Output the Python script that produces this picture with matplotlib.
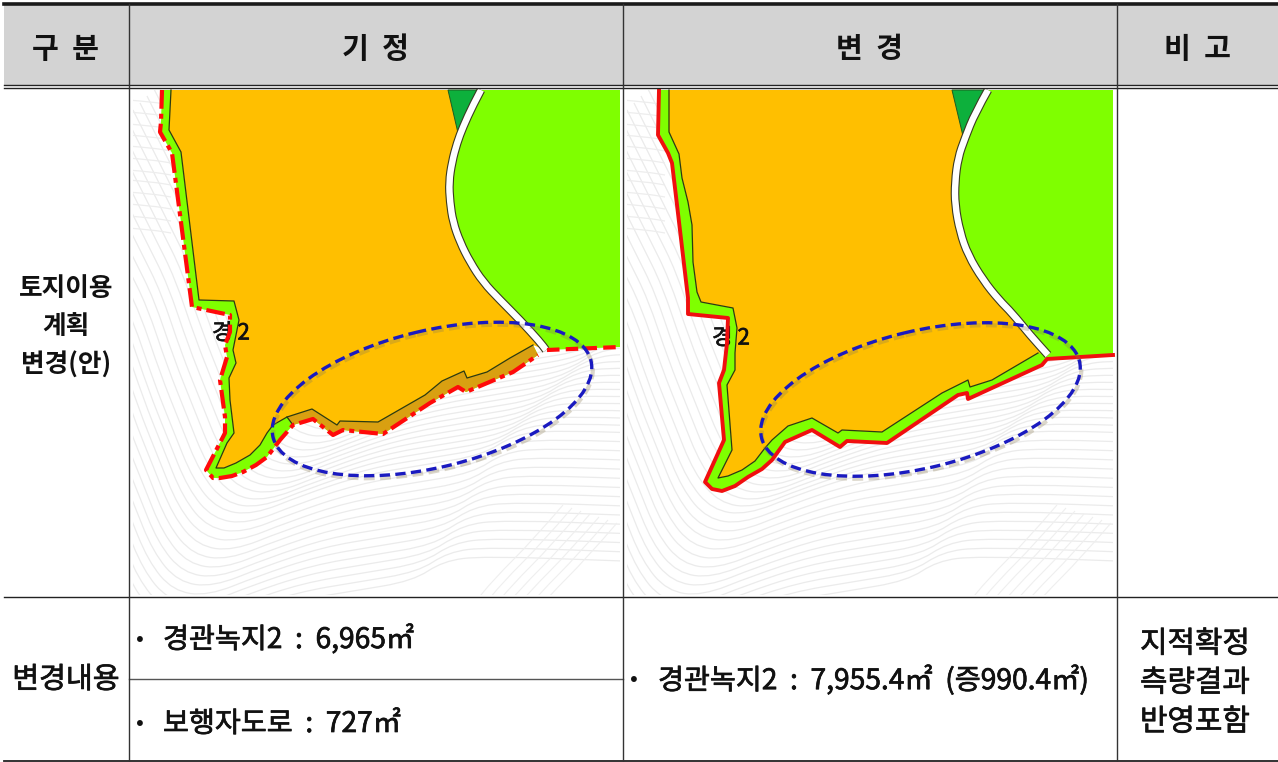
import matplotlib
matplotlib.use('Agg')
import matplotlib.pyplot as plt
import matplotlib.patheffects as pe
from matplotlib.patches import Ellipse, PathPatch, Polygon, Rectangle
from matplotlib.path import Path

plt.rcParams['font.family'] = ['Noto Sans CJK KR', 'DejaVu Sans']

header_labels = ['구  분', '기  정', '변  경', '비  고']
row_label = ['토지이용', '계획', '변경(안)']
change_label = '변경내용'
before_items = ['경관녹지2  :  6,965㎡', '보행자도로  :  727㎡']
after_item = '경관녹지2  :  7,955.4㎡  (증990.4㎡)'
note_lines = ['지적확정', '측량결과', '반영포함']

# map outlines in pixels
left_edge = [(171, 90), (169, 130), (181, 152), (199, 300), (234, 301), (239, 320), (235, 340), (233, 350),
             (236, 363), (229, 378), (230, 400), (234, 433), (227, 443), (216, 468), (224, 468), (236, 463),
             (250, 455), (260, 445), (267, 433), (273, 425), (287, 417), (312, 409), (337, 425), (340, 421),
             (378, 422), (425, 395), (442, 381), (464, 371), (467, 378), (487, 372), (510, 358), (533, 345)]
left_red = [(162, 90), (161, 122), (160, 132), (172, 153), (192, 307), (230, 315), (230, 332), (225, 345),
            (227, 357), (220, 380), (225, 417), (225, 433), (206, 470), (213, 478), (220, 478), (232, 476),
            (243, 472), (256, 465), (267, 457), (280, 440), (293, 425), (313, 419), (333, 435), (343, 430),
            (383, 434), (430, 403), (458, 387), (466, 392), (513, 372), (538, 355)]
left_red_tail = [(547, 350), (620, 347)]
left_road = [(481, 90), (473, 105), (463, 127), (457, 143), (452, 162), (449, 182), (450, 202), (453, 222),
             (460, 242), (470, 262), (483, 282), (500, 300), (520, 320), (540, 342), (546, 350)]
left_wedge = [(448, 90), (477, 90), (458, 133)]
left_strip_edge = [(287, 417), (312, 409), (337, 425), (340, 421), (378, 422), (425, 395), (442, 381),
                   (464, 371), (467, 378), (487, 372), (510, 358), (533, 345)]
left_strip_red = [(538, 355), (513, 372), (466, 392), (458, 387), (430, 403), (383, 434), (343, 430),
                  (333, 435), (313, 419), (293, 425)]

right_edge = [(669, 90), (669, 132), (679, 154), (682, 178), (688, 202), (692, 225), (693, 262), (697, 292),
              (701, 302), (733, 308), (737, 328), (735, 353), (735, 370), (727, 385), (732, 450), (718, 478),
              (728, 476), (742, 470), (755, 461), (765, 448), (772, 440), (788, 426), (812, 418), (838, 433),
              (842, 430), (882, 432), (942, 393), (968, 380), (970, 387), (992, 380), (1038, 353)]
right_red = [(659, 90), (658, 135), (668, 153), (672, 163), (675, 188), (688, 298), (688, 314), (728, 318),
             (727, 343), (724, 370), (719, 383), (724, 440), (705, 482), (712, 489), (722, 491), (735, 486),
             (748, 477), (762, 469), (772, 460), (785, 442), (812, 430), (840, 447), (847, 441), (887, 443),
             (958, 395), (967, 393), (968, 399), (1042, 365), (1047, 359), (1113, 355)]
right_road = [(988, 90), (975, 113), (965, 138), (958, 158), (955, 182), (955, 205), (960, 232), (968, 255),
              (983, 280), (999, 300), (1012, 313), (1030, 335), (1048, 355)]
right_wedge = [(952, 90), (984, 90), (963, 136)]

# contour lines, relative to the panel corner
contour_a = [(-70, 90), (-20, 190), (0, 230), (20, 290), (40, 340), (60, 390), (85, 420), (120, 425), (170, 405),
             (230, 385), (290, 375), (350, 365), (380, 345), (420, 340), (560, 345)]
contour_a_shift = [(112, -112), (105, -105), (98, -98), (91, -91), (84, -84), (77, -77), (70, -70), (63, -63),
                   (56, -56), (49, -49), (42, -42), (35, -35), (28, -28), (21, -21), (14, -14), (7, -7),
                   (0, 0), (-5, 9), (-10, 18), (-15, 27), (-20, 36), (-25, 45), (-30, 54), (-35, 63),
                   (-40, 72), (-45, 81), (-50, 90), (-55, 99), (-60, 108), (-65, 117), (-70, 126)]
contour_b = [(-5, 10), (20, 12), (38, 15)]
contour_b_shift = [0, 12, 24, 35, 46, 58, 70, 80, 92, 104, 116, 128]
contour_c = [(430, 415), (400, 450), (360, 490), (340, 515)]
contour_c_shift = [(0, 0), (9, 3), (18, 6), (27, 9), (36, 12), (45, 15), (54, 18)]

col_x = [129, 623, 1117]
left_panel = (133, 90, 487, 505)
right_panel = (627, 90, 486, 505)
ellipse_left = (432, 399)
ellipse_right = (920.5, 399.5)
ellipse_size = (327, 137, -13.5)

fig = plt.figure(figsize=(12.78, 7.62), dpi=100)
ax = fig.add_axes([0, 0, 1, 1])
ax.set_xlim(0, 1278)
ax.set_ylim(762, 0)
ax.axis('off')

ax.add_patch(Rectangle((4, 4), 1274, 81, color='#d3d3d3', lw=0, zorder=0))

# body text in the reference is heavier than the regular weight
thick = [pe.withStroke(linewidth=0.5, foreground='#111111')]


def smooth_path(pts):
    # quadratic curve through the midpoints, keeps the ends
    verts = [pts[0]]
    codes = [Path.MOVETO]
    for i in range(1, len(pts) - 1):
        mid = ((pts[i][0] + pts[i + 1][0]) / 2, (pts[i][1] + pts[i + 1][1]) / 2)
        verts += [pts[i], mid]
        codes += [Path.CURVE3, Path.CURVE3]
    verts.append(pts[-1])
    codes.append(Path.LINETO)
    return Path(verts, codes)


def draw_curve(pts, clip=None, **kw):
    patch = PathPatch(smooth_path(pts), fill=False, **kw)
    ax.add_patch(patch)
    if clip is not None:
        patch.set_clip_path(clip)


def draw_contours(panel):
    x0, y0, w, h = panel
    clip = Rectangle((x0, y0), w, h, transform=ax.transData)
    for dx, dy in contour_a_shift:
        draw_curve([(x0 + p[0] + dx, y0 + p[1] + dy) for p in contour_a], clip,
                   edgecolor='#ebebeb', lw=0.9, zorder=1)
    for dy in contour_b_shift:
        draw_curve([(x0 + p[0], y0 + p[1] + dy) for p in contour_b], clip,
                   edgecolor='#ededed', lw=0.9, zorder=1)
    for dx, dy in contour_c_shift:
        draw_curve([(x0 + p[0] + dx, y0 + p[1] + dy) for p in contour_c], clip,
                   edgecolor='#efefef', lw=0.8, zorder=1)


def draw_map(panel, edge, red, road, wedge, corner_y):
    x0, y0, w, h = panel
    right = x0 + w
    draw_contours(panel)
    # green parcel right of the road
    ax.add_patch(Polygon(road + [(right, corner_y), (right, 90)], closed=True, color='#7fff00', lw=0, zorder=2))
    # green band along the boundary
    ax.add_patch(Polygon(red + edge[::-1], closed=True, color='#7fff00', lw=0, zorder=2))
    ax.add_patch(Polygon(edge + road[::-1], closed=True, color='#ffbf00', lw=0, zorder=3))
    ax.add_patch(Polygon(wedge, closed=True, facecolor='#0db03c', edgecolor='#1d5c20', lw=0.7, zorder=3))
    ax.plot([p[0] for p in edge], [p[1] for p in edge], color='#2c3a10', lw=0.9, zorder=4)
    draw_curve(road, edgecolor='#3a3a20', lw=6.2, zorder=4, capstyle='butt')
    draw_curve(road, edgecolor='white', lw=4.6, zorder=5, capstyle='butt')


def draw_ellipse(center):
    w, h, angle = ellipse_size
    ax.add_patch(Ellipse((center[0] + 1, center[1] + 2.5), w, h, angle=angle, fill=False,
                         edgecolor='#8a7a50', alpha=0.3, lw=3, linestyle=(0, (2.6, 1.3)), zorder=7))
    ax.add_patch(Ellipse(center, w, h, angle=angle, fill=False, edgecolor='#1a1ac0', lw=2.4,
                         linestyle=(0, (3.1, 1.6)), zorder=8))


draw_map(left_panel, left_edge, left_red, left_road, left_wedge, 347)
ax.add_patch(Polygon(left_strip_edge + left_strip_red, closed=True, color='#d9a011', lw=0, zorder=3.5))
ax.plot([287, 293], [417, 425], color='#2c3a10', lw=0.9, zorder=4)
ax.text(231, 333, '경 2', fontsize=16, ha='center', va='center', color='#111111', zorder=5.5, path_effects=thick)
ax.plot([p[0] for p in left_red], [p[1] for p in left_red], color='#ff0a0a', lw=3,
        linestyle=(0, (4.5, 1.2, 1.2, 1.2)), zorder=6)
ax.plot([p[0] for p in left_red_tail], [p[1] for p in left_red_tail], color='#ff0a0a', lw=3,
        linestyle=(0, (3, 1.5)), zorder=6)
draw_ellipse(ellipse_left)

draw_map(right_panel, right_edge, right_red, right_road, right_wedge, 355)
ax.text(731, 338, '경 2', fontsize=16, ha='center', va='center', color='#111111', zorder=5.5, path_effects=thick)
ax.plot([p[0] for p in right_red], [p[1] for p in right_red], color='#f00f0f', lw=2.8, zorder=6)
draw_ellipse(ellipse_right)

# table rules
ax.plot([4, 1278], [3.5, 3.5], color='#1a1a1a', lw=2.6, zorder=9)
ax.plot([4, 1278], [85, 85], color='#222222', lw=1, zorder=9)
ax.plot([4, 1278], [88, 88], color='#222222', lw=1, zorder=9)
ax.plot([4, 1278], [597, 597], color='#222222', lw=1, zorder=9)
ax.plot([129, 623], [679, 679], color='#555555', lw=1, zorder=9)
ax.plot([4, 1278], [761, 761], color='#222222', lw=1.3, zorder=9)
for x in col_x:
    ax.plot([x, x], [4, 761], color='#333333', lw=1, zorder=9)

for label, x in zip(header_labels, [66, 376, 869, 1198]):
    ax.text(x, 49, label, fontsize=21, fontweight='bold', ha='center', va='center', color='#111111', zorder=10)
for label, y in zip(row_label, [288, 326, 365]):
    ax.text(66, y, label, fontsize=18.5, fontweight='bold', ha='center', va='center', color='#111111', zorder=10)
ax.text(66, 680, change_label, fontsize=21, ha='center', va='center', color='#111111', zorder=10, path_effects=thick)

ax.text(140, 639, '•', fontsize=17, ha='center', va='center', color='#111111', zorder=10)
ax.text(163, 640, before_items[0], fontsize=20.3, ha='left', va='center', color='#111111', zorder=10, path_effects=thick)
ax.text(140, 723, '•', fontsize=17, ha='center', va='center', color='#111111', zorder=10)
ax.text(163, 724, before_items[1], fontsize=20.3, ha='left', va='center', color='#111111', zorder=10, path_effects=thick)
ax.text(634, 680, '•', fontsize=17, ha='center', va='center', color='#111111', zorder=10)
ax.text(658, 681, after_item, fontsize=20.3, ha='left', va='center', color='#111111', zorder=10, path_effects=thick)
for label, y in zip(note_lines, [644, 683, 722]):
    ax.text(1195, y, label, fontsize=21.5, ha='center', va='center', color='#111111', zorder=10, path_effects=thick)

fig.savefig('out.png', dpi=100)
